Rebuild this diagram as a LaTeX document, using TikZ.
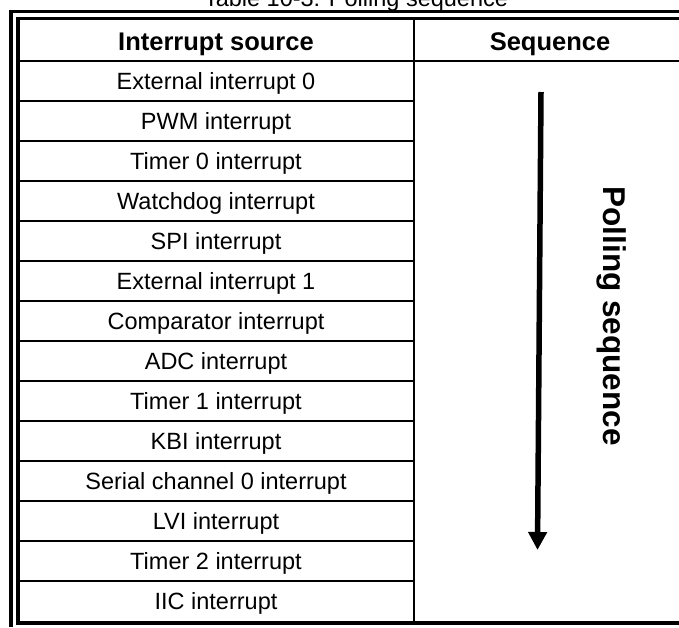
\documentclass[tikz,border=0pt]{standalone}
\usepackage{fontspec}
\setmainfont{Liberation Sans}
\usetikzlibrary{arrows.meta,positioning,calc}

\begin{document}
\begin{tikzpicture}[x=1pt, y=-1pt,
    cell/.style={inner sep=0pt, anchor=base, font=\fontsize{23.5}{28}\selectfont},
    head/.style={inner sep=0pt, anchor=base, font=\fontsize{25.5}{30}\selectfont\bfseries},
    frame/.style={line width=3.8pt},
    rule/.style={line width=2pt},
    arrow/.style={line width=5.5pt, -{Triangle[length=18pt,width=18pt]}}
]
\useasboundingbox (0,0) rectangle (679,627);

% Title (cut off at the top)
\node[cell] (title) at (356,6) {Table 10-3: Polling sequence};

% Double frame
\draw[frame] (11,627) -- (11,11.5) -- (679,11.5);
\draw[frame] (679,18.5) -- (18,18.5) -- (18,623) -- (679,623);

% Table rules
\draw[rule] (20,61) -- (679,61);
\draw[rule] (414,20) -- (414,621);
\foreach \k in {1,...,13}
    \draw[rule] (20,{61+40*\k}) -- (414,{61+40*\k});

% Header
\node[head] (src) at (216,50) {Interrupt source};
\node[head] (seq) at (550,50) {Sequence};

% Interrupt sources
\node[cell] (r1) at (216,89.5) {External interrupt 0};
\node[cell] (r2) at (216,129.5) {PWM interrupt};
\node[cell] (r3) at (216,169.5) {Timer 0 interrupt};
\node[cell] (r4) at (216,209.5) {Watchdog interrupt};
\node[cell] (r5) at (216,249.5) {SPI interrupt};
\node[cell] (r6) at (216,289.5) {External interrupt 1};
\node[cell] (r7) at (216,329.5) {Comparator interrupt};
\node[cell] (r8) at (216,369.5) {ADC interrupt};
\node[cell] (r9) at (216,409.5) {Timer 1 interrupt};
\node[cell] (r10) at (216,449.5) {KBI interrupt};
\node[cell] (r11) at (216,489.5) {Serial channel 0 interrupt};
\node[cell] (r12) at (216,529.5) {LVI interrupt};
\node[cell] (r13) at (216,569.5) {Timer 2 interrupt};
\node[cell] (r14) at (216,609.5) {IIC interrupt};

% Polling order
\coordinate (seqtop) at (541,92);
\coordinate (seqbot) at (537.5,550);
\draw[arrow] (seqtop) -- (seqbot);
\node[inner sep=0pt, rotate=-90, font=\fontsize{31.5}{36}\selectfont\bfseries] (poll) at (612,316) {Polling sequence};

\end{tikzpicture}
\end{document}
